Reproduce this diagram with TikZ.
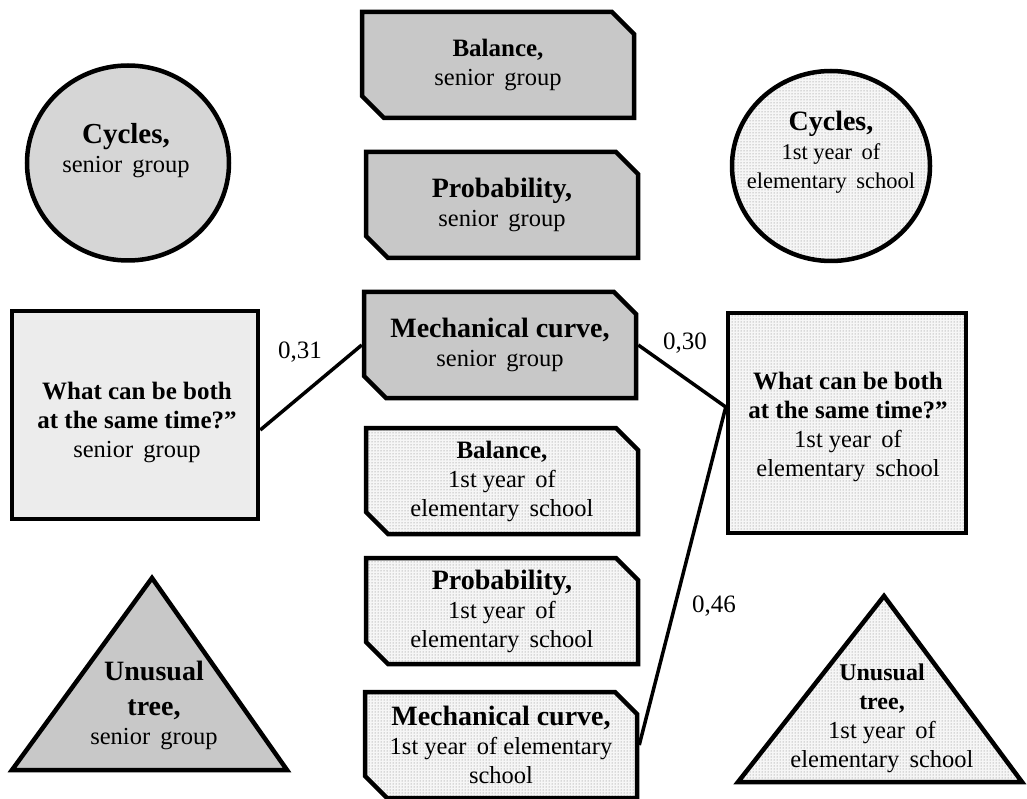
\documentclass[tikz,border=0pt]{standalone}
\usepackage{fontspec}
\setmainfont{Liberation Serif}
\usetikzlibrary{shapes.misc,shapes.geometric,patterns}
\definecolor{senfill}{RGB}{200,200,200}
\definecolor{ovfill}{RGB}{214,214,214}
\definecolor{lightfill}{RGB}{236,236,236}
\definecolor{dotbg}{RGB}{246,246,246}
\definecolor{dotcol}{RGB}{120,120,120}
\newcommand\ttl[2]{{\fontsize{#1}{29}\selectfont\bfseries #2}}
\newcommand\wsp{\hskip 0.42em\relax}
\tikzset{
  shp/.style={draw=black, line width=4.5pt, align=center, inner sep=0pt,
    font=\fontsize{24.5}{29}\selectfont},
  senior/.style={fill=senfill},
  junior/.style={preaction={fill=dotbg}, pattern=dots, pattern color=dotcol},
  chbox/.style={shp, chamfered rectangle,
    chamfered rectangle corners={north east,south west},
    chamfered rectangle xsep=11pt, chamfered rectangle ysep=11pt,
    minimum width=272pt, minimum height=106pt},
  oval/.style={shp, ellipse},
  sq/.style={shp, rectangle},
  tri/.style={draw=black, line width=4.5pt, line join=miter},
  txt/.style={align=center, inner sep=0pt, font=\fontsize{24.5}{29}\selectfont},
  link/.style={line width=3.5pt},
  wt/.style={inner sep=0pt, font=\fontsize{25}{29}\selectfont}
}
\begin{document}
\begin{tikzpicture}[x=1pt,y=-1pt]
\useasboundingbox (0,0) rectangle (1027,799);

% chamfered boxes, senior group
\node[chbox,senior] (bs) at (498,65) {\ttl{25}{Balance,}\\senior\wsp group};
\node[chbox,senior] (ps) at (502,205) {\ttl{28}{Probability,}\\senior\wsp group};
\node[chbox,senior] (ms) at (500,345) {\ttl{28}{Mechanical curve,}\\senior\wsp group};

% chamfered boxes, 1st year
\node[chbox,junior] (b1) at (502,481) {\ttl{25}{Balance,}\\1st year\wsp of\\elementary\wsp school};
\node[chbox,junior] (p1) at (502,611) {\ttl{28}{Probability,}\\1st year\wsp of\\elementary\wsp school};
\node[chbox,junior] (m1) at (501,745) {\ttl{28}{Mechanical curve,}\\1st year\wsp of elementary\\school};

% ellipses
\node[oval,fill=ovfill,minimum width=202pt,minimum height=195pt] (cs) at (128,163) {};
\node[txt] (cst) at (126,151) {\ttl{29}{Cycles,}\\senior\wsp group};
\node[oval,junior,minimum width=198pt,minimum height=190pt] (c1) at (831,166) {};
\node[txt,font=\fontsize{22.5}{29}\selectfont] (c1t) at (831,152) {\ttl{28}{Cycles,}\\1st year\wsp of\\elementary\wsp school};

% squares
\node[sq,fill=lightfill,minimum width=246pt,minimum height=208pt] (lsq) at (135,415) {};
\node[txt] (lsqt) at (137,422) {\ttl{25}{What can be both}\\\ttl{25}{at the same time?"}\\senior\wsp group};
\node[sq,junior,minimum width=238pt,minimum height=220pt] (rsq) at (847,423) {};
\node[txt] (rsqt) at (848,427) {\ttl{25}{What can be both}\\\ttl{25}{at the same time?"}\\1st year\wsp of\\elementary\wsp school};

% triangles
\draw[tri,fill=senfill] (152,578) -- (12,770) -- (287,770) -- cycle;
\node[txt] (tst) at (154,705) {\ttl{28}{Unusual}\\[6pt]\ttl{28}{tree,}\\senior\wsp group};
\draw[tri,junior] (884,596) -- (738,782) -- (1022,782) -- cycle;
\node[txt] (t1t) at (882,718) {\ttl{24}{Unusual}\\\ttl{24}{tree,}\\1st year\wsp of\\elementary\wsp school};

% connectors
\coordinate (rj) at ([yshift=16pt]rsq.west);
\draw[link] ([yshift=-15pt]lsq.east) -- (ms.west);
\draw[link] (ms.east) -- (rj);
\draw[link] (rj) -- (m1.east);

% weights
\node[wt] (w1) at (300,352) {0,31};
\node[wt] (w2) at (685,343) {0,30};
\node[wt] (w3) at (714,606) {0,46};
\end{tikzpicture}
\end{document}
